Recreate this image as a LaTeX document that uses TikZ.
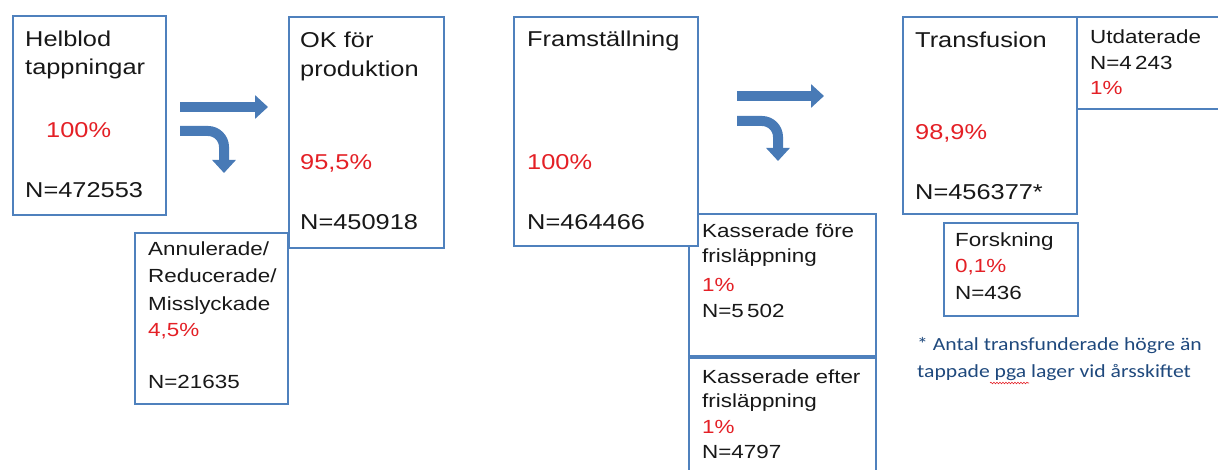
\documentclass[tikz,border=0pt]{standalone}
\usepackage{fontspec}
\setmainfont{Liberation Sans}[FakeStretch=1.18]
\newfontfamily\notefont{Carlito}[FakeStretch=1.17]
\usepackage{xcolor}
\definecolor{bxblue}{RGB}{79,129,189}
\definecolor{arblue}{RGB}{72,122,182}
\definecolor{pctred}{RGB}{228,32,38}
\definecolor{txtdark}{RGB}{24,24,24}
\definecolor{notenavy}{RGB}{31,73,125}
\usepackage{tikz}
\usetikzlibrary{arrows.meta, decorations.pathmorphing}

\begin{document}
\begin{tikzpicture}[x=1pt, y=-1pt,
  box/.style={draw=bxblue, line width=2.3pt, fill=white, anchor=north west, inner sep=0pt},
  big/.style={anchor=base west, inner sep=0pt, text=txtdark, font=\fontsize{21.5}{26}\selectfont},
  small/.style={big, font=\fontsize{19}{23}\selectfont},
  bigpct/.style={big, text=pctred},
  smallpct/.style={small, text=pctred},
  note/.style={anchor=base west, inner sep=0pt, text=notenavy, font=\notefont\fontsize{18.5}{22}\selectfont},
  blockarrow/.style={draw=arblue, line width=10pt, -{Triangle[length=13pt, width=23pt]}}]
  \useasboundingbox (0,0) rectangle (1218,470);

  % Tappning
  \node[box, minimum width=153pt, minimum height=199pt] (helblod) at (12,15) {};
  \node[big] (helblodA) at (25,47) {Helblod};
  \node[big] (helblodB) at (25,75) {tappningar};
  \node[bigpct] (helblodP) at (46,138) {100\%};
  \node[big] (helblodN) at (25,198) {N=472553};

  \node[box, minimum width=155pt, minimum height=231pt] (okprod) at (288,16) {};
  \node[big] (okprodA) at (300,48) {OK för};
  \node[big] (okprodB) at (300,77) {produktion};
  \node[bigpct] (okprodP) at (300,170) {95,5\%};
  \node[big] (okprodN) at (300,230) {N=450918};

  \node[box, minimum width=153pt, minimum height=171pt] (annul) at (134,232) {};
  \node[small] (annulA) at (148,256) {Annulerade/};
  \node[small] (annulB) at (148,283) {Reducerade/};
  \node[small] (annulC) at (148,310) {Misslyckade};
  \node[smallpct] (annulP) at (148,337) {4,5\%};
  \node[small] (annulN) at (148,388) {N=21635};

  \coordinate (pilA1) at (180,107);
  \coordinate (pilA2) at (268,107);
  \draw[blockarrow] (pilA1) -- (pilA2);
  \coordinate (bojA1) at (180,131);
  \coordinate (bojA2) at (224,131);
  \coordinate (bojA3) at (224,173);
  \draw[blockarrow, rounded corners=16pt] (bojA1) -- (bojA2) -- (bojA3);

  % Framstaellning
  \node[box, minimum width=187pt, minimum height=142pt] (kassfore) at (688,213) {};
  \node[small] (kassforeA) at (702,238) {Kasserade före};
  \node[small] (kassforeB) at (702,263) {frisläppning};
  \node[smallpct] (kassforeP) at (702,291) {1\%};
  \node[small] (kassforeN) at (702,318) {N=5\,502};

  \node[box, minimum width=187pt, minimum height=140pt] (kassefter) at (688,357) {};
  \node[small] (kassefterA) at (702,383) {Kasserade efter};
  \node[small] (kassefterB) at (702,407) {frisläppning};
  \node[smallpct] (kassefterP) at (702,433) {1\%};
  \node[small] (kassefterN) at (702,458) {N=4797};

  \node[box, minimum width=184pt, minimum height=229pt] (framst) at (513,16) {};
  \node[big] (framstA) at (527,47) {Framställning};
  \node[bigpct] (framstP) at (527,170) {100\%};
  \node[big] (framstN) at (527,230) {N=464466};

  \coordinate (pilB1) at (737,96);
  \coordinate (pilB2) at (824,96);
  \draw[blockarrow] (pilB1) -- (pilB2);
  \coordinate (bojB1) at (737,121);
  \coordinate (bojB2) at (778,121);
  \coordinate (bojB3) at (778,161);
  \draw[blockarrow, rounded corners=16pt] (bojB1) -- (bojB2) -- (bojB3);

  % Transfusion
  \node[box, minimum width=174pt, minimum height=197pt] (transf) at (902,16) {};
  \node[big] (transfA) at (915,48) {Transfusion};
  \node[bigpct] (transfP) at (915,140) {98,9\%};
  \node[big] (transfN) at (915,200) {N=456377*};

  \node[box, minimum width=160pt, minimum height=92pt] (utdat) at (1076,16) {};
  \node[small] (utdatA) at (1090,44) {Utdaterade};
  \node[small] (utdatN) at (1090,70) {N=4\,243};
  \node[smallpct] (utdatP) at (1090,95) {1\%};

  \node[box, minimum width=134pt, minimum height=93pt] (forsk) at (943,222) {};
  \node[small] (forskA) at (955,247) {Forskning};
  \node[smallpct] (forskP) at (955,273) {0,1\%};
  \node[small] (forskN) at (955,300) {N=436};

  \node[note] (noteA) at (917,350) {* Antal transfunderade högre än};
  \node[note] (noteB) at (917,377) {tappade pga lager vid årsskiftet};
  \draw[pctred, line width=0.6pt, decorate, decoration={snake, amplitude=0.8pt, segment length=3pt}]
       (990,383) -- (1029,383);
\end{tikzpicture}
\end{document}
